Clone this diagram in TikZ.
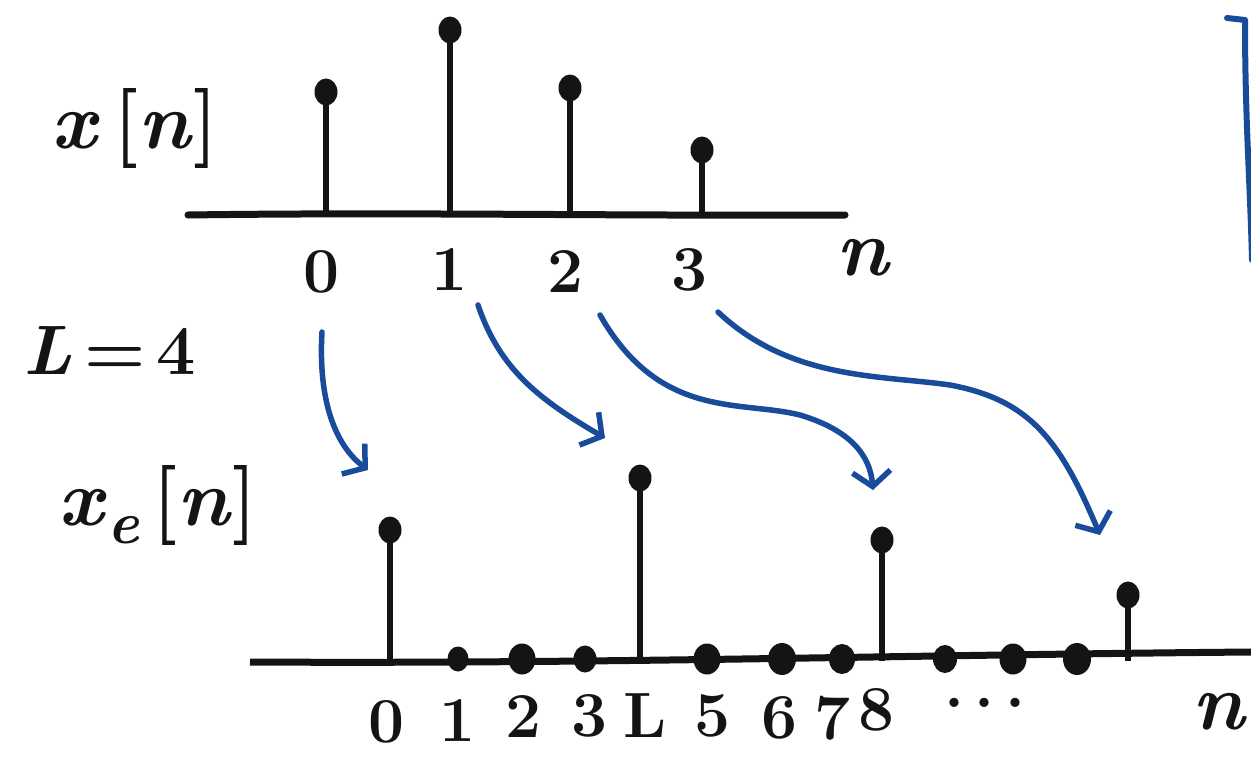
\documentclass[tikz,border=0pt]{standalone}
\usetikzlibrary{arrows.meta,shapes.geometric}
\definecolor{pen}{RGB}{20,20,20}
\definecolor{ink}{RGB}{25,75,155}
\begin{document}
\begin{tikzpicture}[x=1pt,y=-1pt,
  axisline/.style={draw=pen,line width=7pt,line cap=round},
  stemline/.style={draw=pen,line width=6pt},
  tipdot/.style={ellipse,fill=pen,inner sep=0pt,minimum width=23pt,minimum height=27pt},
  zerodot/.style={ellipse,fill=pen,inner sep=0pt,minimum width=22pt},
  lbl/.style={text=pen,font=\bfseries\fontsize{64}{68}\selectfont,inner sep=0pt},
  bigl/.style={text=pen,font=\bfseries\fontsize{80}{84}\selectfont,inner sep=0pt},
  maparrow/.style={draw=ink,line width=5.5pt,line cap=round,-{Straight Barb[length=15pt,width=38pt,line width=5.5pt]}}]
\useasboundingbox (0,0) rectangle (1251,761);

% ---------- top signal x[n]
\coordinate (ta0) at (188,215);
\coordinate (ta1) at (845,215);
\draw[axisline] (ta0) .. controls (400,212) and (600,216) .. (ta1);
\foreach \i/\x/\y in {0/326/92,1/450/30,2/570/88,3/702/150}{
  \coordinate (tb\i) at (\x,215);
  \node[tipdot] (tt\i) at (\x,\y) {};
  \draw[stemline] (tb\i) -- (tt\i.center);
}
\node[lbl] (tl0) at (322,272) {0};
\node[lbl] (tl1) at (450,270) {1};
\node[lbl] (tl2) at (566,272) {2};
\node[lbl] (tl3) at (690,270) {3};
\node[bigl] (tn) at (862,258) {\itshape n};
\node[bigl] (xlab) at (135,128) {\textit{x}\,[\textit{n}]};
\node[bigl,font=\bfseries\fontsize{70}{74}\selectfont] (Llab) at (110,350) {\textit{L}\,=\,4};

% ---------- bottom signal x_e[n]
\node[bigl] (xelab) at (158,505) {\textit{x}\raisebox{-18pt}{\fontsize{60}{62}\selectfont\textit{e}}\,[\textit{n}]};
\coordinate (ba0) at (250,662);
\coordinate (ba1) at (1251,652);
\draw[axisline,line cap=butt] (ba0) .. controls (600,664) and (900,655) .. (ba1);
\foreach \i/\x/\y in {0/390/530,4/640/478,8/882/540,12/1128/595}{
  \coordinate (bb\i) at (\x,661);
  \node[tipdot] (bt\i) at (\x,\y) {};
  \draw[stemline] (bb\i) -- (bt\i.center);
}
\foreach \i/\x/\s in {1/458/21pt,2/522/27pt,3/585/23pt,5/707/27pt,6/782/28pt,7/842/26pt,9/945/24pt,10/1013/27pt,11/1077/28pt}{
  \node[zerodot,minimum width=\s,minimum height=\s+4pt] (bz\i) at (\x,659) {};
}
\node[lbl] (bl0) at (387,722) {0};
\node[lbl] (bl1) at (458,720) {1};
\node[lbl] (bl2) at (524,716) {2};
\node[lbl] (bl3) at (590,716) {3};
\node[lbl] (bl4) at (645,716) {L};
\node[lbl] (bl5) at (713,716) {5};
\node[lbl] (bl6) at (780,718) {6};
\node[lbl] (bl7) at (833,718) {7};
\node[lbl] (bl8) at (877,710) {8};
\node[lbl] (bdots) at (985,706) {\raisebox{6pt}{.\,.\,.}};
\node[bigl] (bn) at (1218,712) {\itshape n};

% ---------- mapping arrows
\coordinate (a0s) at (322,332);
\coordinate (a0e) at (368,470);
\draw[maparrow] (a0s) .. controls (318,400) and (335,445) .. (a0e);
\coordinate (a1s) at (478,305);
\coordinate (a1e) at (605,438);
\draw[maparrow] (a1s) .. controls (500,370) and (540,400) .. (a1e);
\coordinate (a2s) at (600,315);
\coordinate (a2e) at (873,490);
\draw[maparrow] (a2s) .. controls (660,420) and (740,400) .. (800,415) .. controls (850,430) and (870,455) .. (a2e);
\coordinate (a3s) at (718,312);
\coordinate (a3e) at (1100,535);
\draw[maparrow] (a3s) .. controls (790,380) and (880,375) .. (950,385) .. controls (1030,400) and (1060,440) .. (a3e);

% ---------- blue bracket at right edge
\coordinate (r0) at (1227,18);
\coordinate (r1) at (1245,20);
\coordinate (r2) at (1252,260);
\begin{scope}
\clip (0,0) rectangle (1251,761);
\draw[draw=ink,line width=6pt,line cap=round,line join=round] (r0) -- (r1) .. controls (1245,120) and (1250,180) .. (r2);
\end{scope}
\end{tikzpicture}
\end{document}
